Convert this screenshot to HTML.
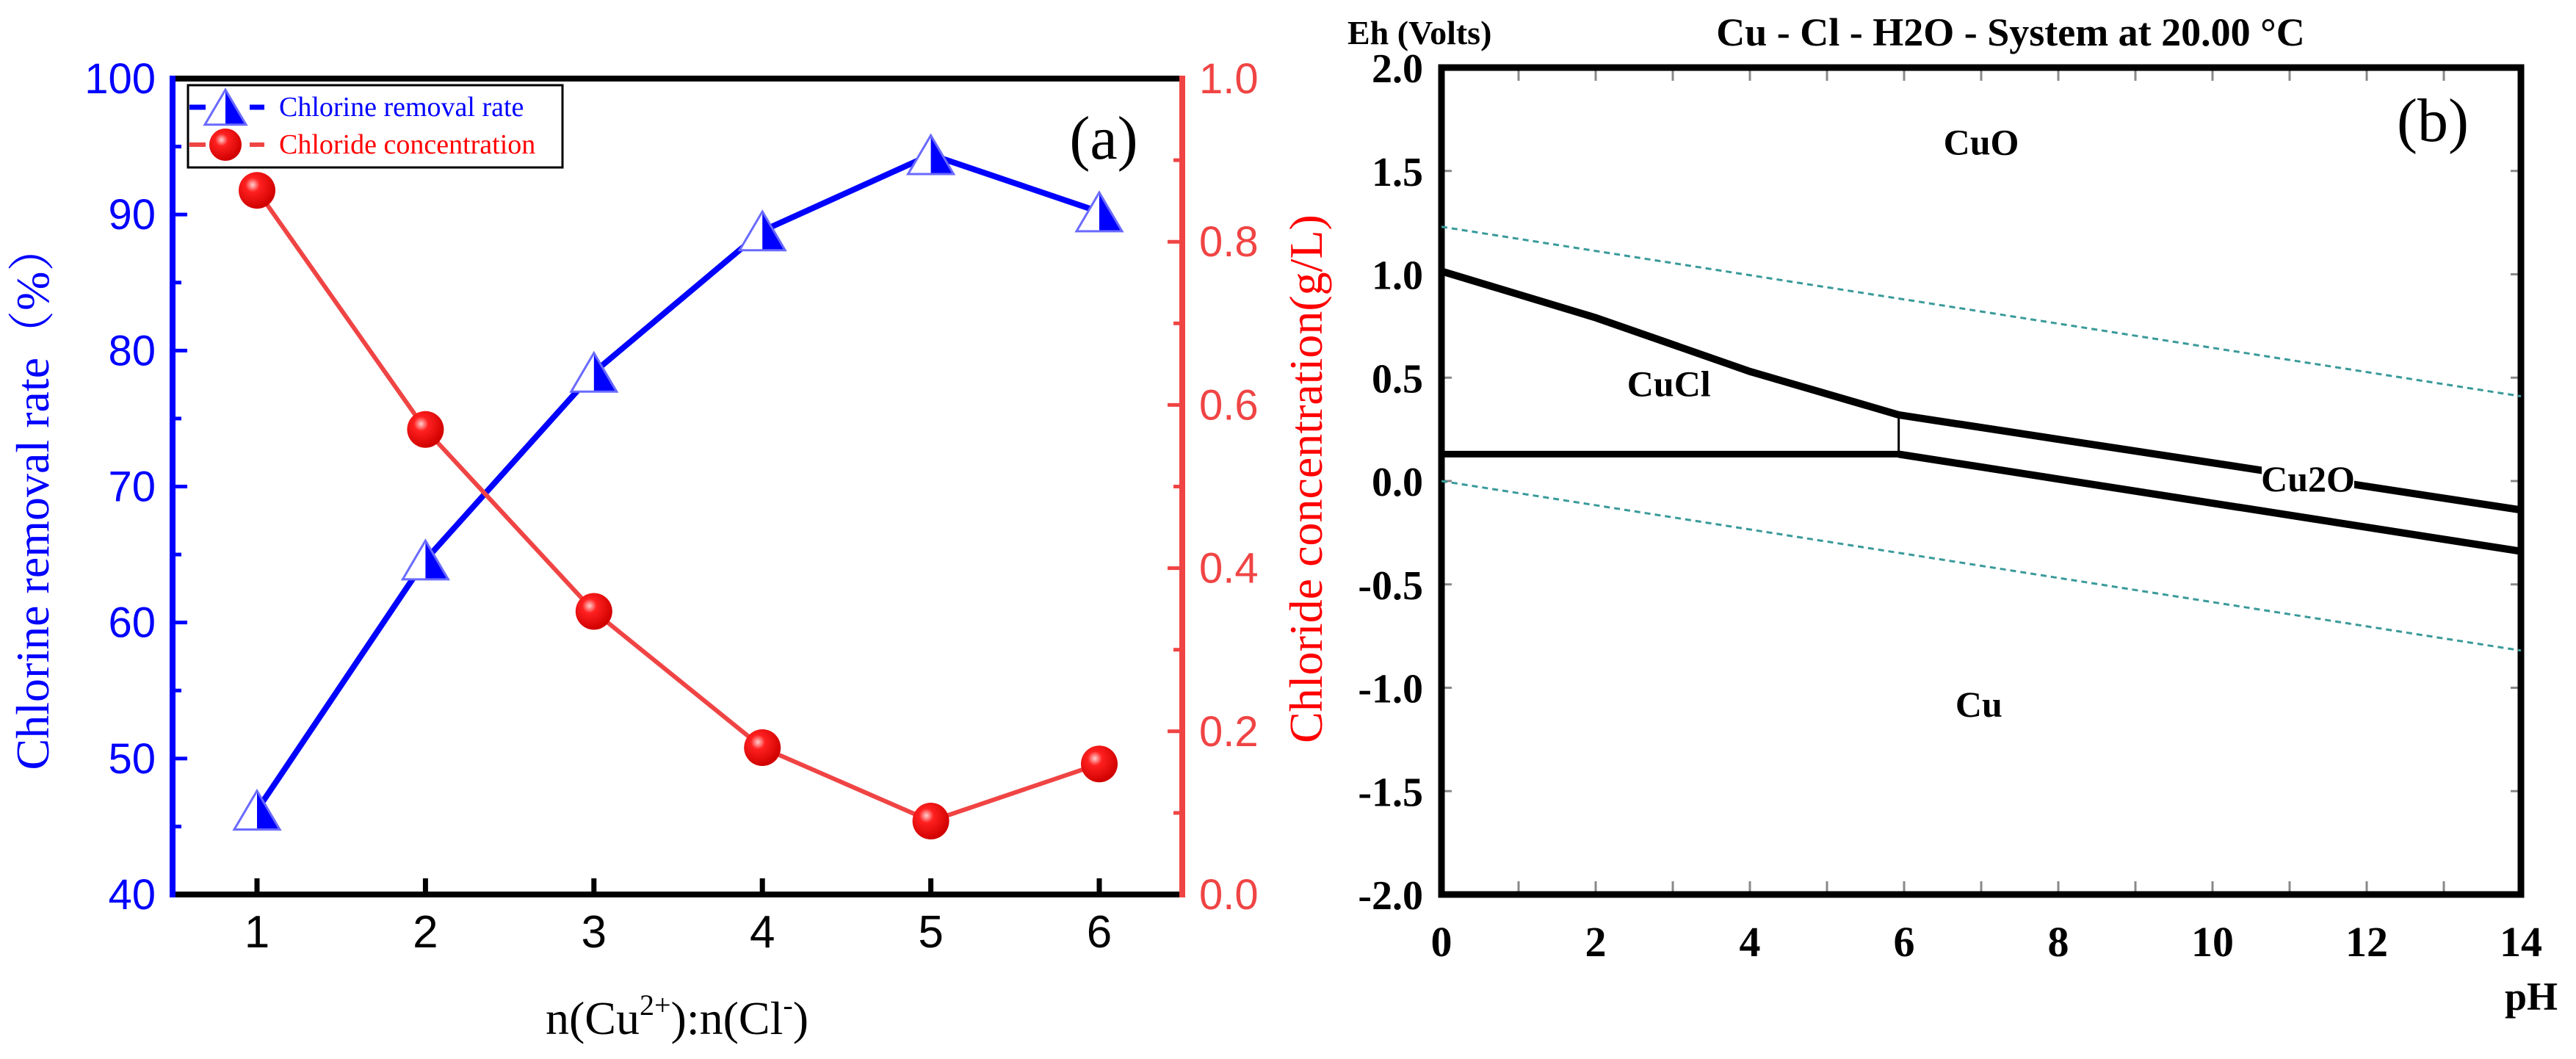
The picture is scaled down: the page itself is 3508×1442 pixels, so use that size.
<!DOCTYPE html>
<html><head><meta charset="utf-8"><style>
html,body{margin:0;padding:0;background:#fff;}
svg{display:block;}
</style></head>
<body>
<svg id="fig" width="3508" height="1442" viewBox="0 0 3508 1442" xmlns="http://www.w3.org/2000/svg">
<defs>
<radialGradient id="ballGrad" cx="0.38" cy="0.35" r="0.65">
<stop offset="0" stop-color="#ffd0d0"/><stop offset="0.3" stop-color="#ff2020"/><stop offset="1" stop-color="#d00000"/>
</radialGradient>
</defs>
<g id="chartA"></g>
<g id="chartB"></g>
</svg>
<script>
// ---- Chart (a) data ----
const ratioCategories = [1, 2, 3, 4, 5, 6];
const removalRate = [46.2, 64.6, 78.4, 88.8, 94.4, 90.2];
const chlorideConc = [0.863, 0.570, 0.347, 0.180, 0.090, 0.160];
const leftTicks = [40, 50, 60, 70, 80, 90, 100];
const rightTicks = [0.0, 0.2, 0.4, 0.6, 0.8, 1.0];
// ---- Chart (b) data ----
const phTicks = [0, 2, 4, 6, 8, 10, 12, 14];
const ehTicks = [2.0, 1.5, 1.0, 0.5, 0.0, -0.5, -1.0, -1.5, -2.0];
const cuclUpperPH = [0, 2, 4, 5.93];
const cuclUpperEh = [1.015, 0.79, 0.53, 0.32];
const cu2oUpperPH = [5.93, 14];
const cu2oUpperEh = [0.32, -0.14];
const cuclLowerPH = [0, 5.93];
const cuclLowerEh = [0.13, 0.13];
const cu2oLowerPH = [5.93, 14];
const cu2oLowerEh = [0.13, -0.34];
const waterUpperEh = [1.23, 0.41];
const waterLowerEh = [0.0, -0.82];
const waterPH = [0, 14];

const NS = 'http://www.w3.org/2000/svg';
function mk(parent, tag, attrs, text) {
  const e = document.createElementNS(NS, tag);
  for (const k in attrs) e.setAttribute(k, attrs[k]);
  if (text !== undefined) e.textContent = text;
  parent.appendChild(e);
  return e;
}

// ===== Chart A =====
(function(){
  const g = document.getElementById('chartA');
  const L = 235, R = 1610, T = 107, B = 1218;
  const xs = c => 350 + (c - 1) * 229.4;
  const yl = v => B - (v - 40) / 60 * (B - T);
  const yr = v => B - v / 1.0 * (B - T);
  const SANS = '"Liberation Sans", Arial, sans-serif';
  const SERIF = '"Liberation Serif", "Times New Roman", serif';

  // ticks left (blue)
  for (let v = 40; v <= 100; v += 5) {
    const t = mk(g, 'line', {x1: L, x2: L + (v % 10 === 0 ? 20 : 12), y1: yl(v), y2: yl(v), stroke: '#0000ff', 'stroke-width': 5});
    
    
  }
  leftTicks.forEach(v => {
    const t = mk(g, 'text', {x: 212, y: yl(v) + 20, 'text-anchor': 'end', 'font-family': SANS, 'font-size': 58, fill: '#0000ff'}, String(v));
    
    
  });
  for (let i = 0; i <= 10; i++) {
    const v = i / 10;
    const t = mk(g, 'line', {x1: R, x2: R - (i % 2 === 0 ? 20 : 12), y1: yr(v), y2: yr(v), stroke: '#f04444', 'stroke-width': 5});
    
    
  }
  rightTicks.forEach(v => {
    const t = mk(g, 'text', {x: 1633, y: yr(v) + 20, 'text-anchor': 'start', 'font-family': SANS, 'font-size': 58, fill: '#f04444'}, v.toFixed(1));
    
    
  });
  ratioCategories.forEach(c => {
    const t = mk(g, 'line', {x1: xs(c), x2: xs(c), y1: B, y2: B - 22, stroke: '#000', 'stroke-width': 7});
    
    
    const l = mk(g, 'text', {x: xs(c), y: 1290, 'text-anchor': 'middle', 'font-family': SANS, 'font-size': 62, fill: '#000'}, String(c));
    
    
  });

  // axes
  const top = mk(g, 'line', {x1: L, x2: R, y1: T, y2: T, stroke: '#000', 'stroke-width': 8});
   
  const bot = mk(g, 'line', {x1: L, x2: R, y1: B, y2: B, stroke: '#000', 'stroke-width': 8});
   
  const la = mk(g, 'line', {x1: L, x2: L, y1: T - 4, y2: B + 4, stroke: '#0000ff', 'stroke-width': 8});
   
  const ra = mk(g, 'line', {x1: R, x2: R, y1: T - 4, y2: B + 4, stroke: '#f04444', 'stroke-width': 8});
   

  // lines
  const bpts = ratioCategories.map((c, i) => xs(c) + ',' + yl(removalRate[i])).join(' ');
  const bl = mk(g, 'polyline', {points: bpts, fill: 'none', stroke: '#0000ff', 'stroke-width': 8});
   
  const rpts = ratioCategories.map((c, i) => xs(c) + ',' + yr(chlorideConc[i])).join(' ');
  const rl = mk(g, 'polyline', {points: rpts, fill: 'none', stroke: '#f04444', 'stroke-width': 6});
   

  function tri(parent, cx, cy, s) {
    const h = s * 0.85;
    const gg = mk(parent, 'g', {});
    mk(gg, 'polygon', {points: `${cx},${cy-h/2} ${cx+s/2},${cy+h/2} ${cx-s/2},${cy+h/2}`, fill: '#fff', stroke: 'none'});
    mk(gg, 'polygon', {points: `${cx},${cy-h/2} ${cx+s/2},${cy+h/2} ${cx},${cy+h/2}`, fill: '#0000ff'});
    mk(gg, 'polygon', {points: `${cx},${cy-h/2} ${cx+s/2},${cy+h/2} ${cx-s/2},${cy+h/2}`, fill: 'none', stroke: '#6a6aff', 'stroke-width': 3});
    return gg;
  }
  ratioCategories.forEach((c, i) => {
    const m = tri(g, xs(c), yl(removalRate[i]), 62);
    
    
  });
  ratioCategories.forEach((c, i) => {
    const m = mk(g, 'circle', {cx: xs(c), cy: yr(chlorideConc[i]), r: 25, fill: 'url(#ballGrad)'});
    
    
  });

  // legend
  const lg = mk(g, 'g', {});
   
  mk(lg, 'rect', {x: 256, y: 116, width: 510, height: 112, fill: '#fff', stroke: '#000', 'stroke-width': 3});
  mk(lg, 'line', {x1: 258, x2: 360, y1: 146, y2: 146, stroke: '#0000ff', 'stroke-width': 7, 'stroke-dasharray': '22 60'});
  const lt = tri(lg, 307, 146, 56);
   
  mk(lg, 'line', {x1: 258, x2: 360, y1: 197, y2: 197, stroke: '#f04444', 'stroke-width': 6, 'stroke-dasharray': '22 60'});
  const lc = mk(lg, 'circle', {cx: 307, cy: 197, r: 22, fill: 'url(#ballGrad)'});
   
  const le1 = mk(lg, 'text', {x: 380, y: 158, 'font-family': SERIF, 'font-size': 38, fill: '#0000ff'}, 'Chlorine removal rate');
   
  const le2 = mk(lg, 'text', {x: 380, y: 209, 'font-family': SERIF, 'font-size': 38, fill: '#ff0000'}, 'Chloride concentration');
   

  const pa = mk(g, 'text', {x: 1503, y: 216, 'text-anchor': 'middle', 'font-family': SERIF, 'font-size': 84, fill: '#000'}, '(a)');
   

  const yt = mk(g, 'text', {x: 0, y: 0, transform: 'translate(66,677) rotate(-90)', 'text-anchor': 'middle', 'font-family': '"Liberation Serif", "Noto Serif CJK SC", serif', 'font-size': 64, fill: '#0000ff'}, 'Chlorine removal rate（%）');
   
  const yt2 = mk(g, 'text', {x: 0, y: 0, transform: 'translate(1800,652) rotate(-90)', 'text-anchor': 'middle', 'font-family': SERIF, 'font-size': 64, fill: '#ff0000'}, 'Chloride concentration(g/L)');
   

  const xt = mk(g, 'text', {x: 922, y: 1408, 'text-anchor': 'middle', 'font-family': SERIF, 'font-size': 64, fill: '#000'});
   
  xt.innerHTML = 'n(Cu<tspan dy="-26" font-size="40">2+</tspan><tspan dy="26">):n(Cl</tspan><tspan dy="-26" font-size="40">-</tspan><tspan dy="26">)</tspan>';
})();

// ===== Chart B =====
(function(){
  const g = document.getElementById('chartB');
  const L = 1963, R = 3433, T = 92, B = 1218;
  const xs = p => L + p / 14 * (R - L);
  const ys = e => T + (2 - e) / 4 * (B - T);
  const SERIF = '"Liberation Serif", "Times New Roman", serif';

  for (let p = 1; p < 14; p++) {
    const a = mk(g, 'line', {x1: xs(p), x2: xs(p), y1: T, y2: T + 18, stroke: '#888', 'stroke-width': 3});
     
    const b = mk(g, 'line', {x1: xs(p), x2: xs(p), y1: B, y2: B - 18, stroke: '#888', 'stroke-width': 3});
     
  }
  ehTicks.forEach(e => {
    const a = mk(g, 'line', {x1: L, x2: L + 14, y1: ys(e), y2: ys(e), stroke: '#888', 'stroke-width': 3});
     
    const b = mk(g, 'line', {x1: R, x2: R - 14, y1: ys(e), y2: ys(e), stroke: '#888', 'stroke-width': 3});
     
    const t = mk(g, 'text', {x: 1938, y: ys(e) + 20, 'text-anchor': 'end', 'font-family': SERIF, 'font-weight': 'bold', 'font-size': 56, fill: '#000'}, e.toFixed(1));
     
  });
  phTicks.forEach(p => {
    const t = mk(g, 'text', {x: xs(p), y: 1302, 'text-anchor': 'middle', 'font-family': SERIF, 'font-weight': 'bold', 'font-size': 58, fill: '#000'}, String(p));
     
  });

  const frame = mk(g, 'rect', {x: L, y: T, width: R - L, height: B - T, fill: 'none', stroke: '#000', 'stroke-width': 9});
   

  function wline(eh, name) {
    const pts = waterPH.map((p, i) => xs(p) + ',' + ys(eh[i])).join(' ');
    const l = mk(g, 'polyline', {points: pts, fill: 'none', stroke: '#3a9a9a', 'stroke-width': 3, 'stroke-dasharray': '8 6'});
     
  }
  wline(waterUpperEh, 'water-upper-limit');
  wline(waterLowerEh, 'water-lower-limit');

  function bline(ph, eh, name, w) {
    const pts = ph.map((p, i) => xs(p) + ',' + ys(eh[i])).join(' ');
    const l = mk(g, 'polyline', {points: pts, fill: 'none', stroke: '#000', 'stroke-width': w});
     
    return l;
  }
  bline(cuclUpperPH, cuclUpperEh, 'cuo-cucl-boundary', 10);
  const up = bline(cu2oUpperPH, cu2oUpperEh, 'cuo-cu2o-boundary', 10);
  bline(cuclLowerPH, cuclLowerEh, 'cucl-cu-boundary', 9);
  bline(cu2oLowerPH, cu2oLowerEh, 'cu2o-cu-boundary', 10);
  const v = mk(g, 'line', {x1: xs(5.93), x2: xs(5.93), y1: ys(cuclUpperEh[3]), y2: ys(cuclLowerEh[1]), stroke: '#000', 'stroke-width': 3});
   

  // label gap on Cu2O line
  const gap = mk(g, 'rect', {x: 3080, y: 615, width: 126, height: 70, fill: '#fff'});
   

  function lab(txt, x, y, size, name, anchor) {
    const t = mk(g, 'text', {x: x, y: y, 'text-anchor': anchor || 'middle', 'font-family': SERIF, 'font-weight': 'bold', 'font-size': size, fill: '#000'}, txt);
     
  }
  lab('CuO', xs(7.0), ys(1.64) + 17, 50, 'region-label-cuo');
  lab('CuCl', xs(2.95), ys(0.47) + 17, 50, 'region-label-cucl');
  lab('Cu2O', 3143, 669, 50, 'region-label-cu2o');
  lab('Cu', xs(6.97), ys(-1.08) + 17, 50, 'region-label-cu');
  lab('Eh (Volts)', 1835, 60, 46, 'y-axis-title', 'start');
  lab('Cu - Cl - H2O - System at 20.00 °C', 2738, 62, 54, 'chart-title');
  lab('pH', 3447, 1375, 54, 'x-axis-title');
  const pb = mk(g, 'text', {x: 3313, y: 192, 'text-anchor': 'middle', 'font-family': SERIF, 'font-size': 84, fill: '#000'}, '(b)');
   
})();
</script>
</body></html>
